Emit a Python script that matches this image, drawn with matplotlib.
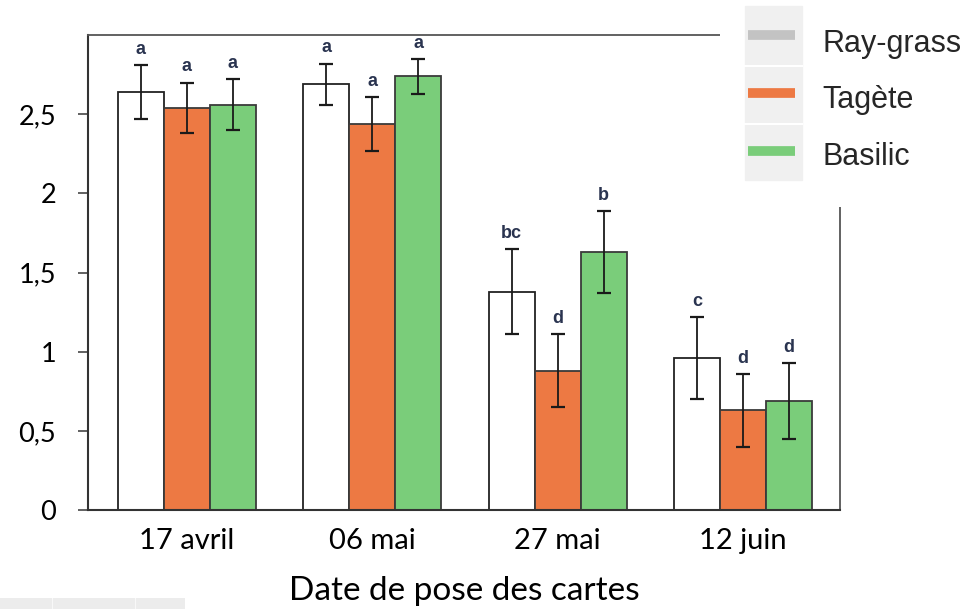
import numpy as np
import matplotlib.pyplot as plt
from matplotlib.lines import Line2D
from matplotlib.patches import Rectangle

# Dates de pose et moyennes par culture
dates = ['17 avril', '06 mai', '27 mai', '12 juin']
cultures = ['Ray-grass', 'Tagète', 'Basilic']

ray_grass = [2.64, 2.69, 1.38, 0.96]
tagete = [2.54, 2.44, 0.88, 0.63]
basilic = [2.56, 2.74, 1.63, 0.69]

ray_grass_err = [0.17, 0.13, 0.27, 0.26]
tagete_err = [0.16, 0.17, 0.23, 0.23]
basilic_err = [0.16, 0.11, 0.26, 0.24]

# Groupes statistiques
ray_grass_lettres = ['a', 'a', 'bc', 'c']
tagete_lettres = ['a', 'a', 'd', 'd']
basilic_lettres = ['a', 'a', 'b', 'd']

yticks = [0, 0.5, 1, 1.5, 2, 2.5]
ytick_labels = ['0', '0,5', '1', '1,5', '2', '2,5']

W, H = 975, 609
fig = plt.figure(figsize=(W / 100, H / 100), dpi=100)
ax = fig.add_axes([88 / W, 1 - 510 / H, 752 / W, 475 / H])

x = np.arange(len(dates))
width = 0.248
series = [
    (ray_grass, ray_grass_err, ray_grass_lettres, 'white', '#222222'),
    (tagete, tagete_err, tagete_lettres, '#ed7943', '#3a3a3a'),
    (basilic, basilic_err, basilic_lettres, '#7acd7a', '#3a3a3a'),
]
for i, (vals, errs, lettres, fc, ec) in enumerate(series):
    pos = x + (i - 1) * width
    ax.bar(pos, vals, width, color=fc, edgecolor=ec, linewidth=1.3, zorder=2)
    ax.errorbar(pos, vals, yerr=errs, fmt='none', ecolor='#1a1a1a',
                elinewidth=1.3, capsize=5, capthick=1.6, zorder=3)
    for p, v, e, l in zip(pos, vals, errs, lettres):
        ax.text(p, v + e + 0.045, l, ha='center', va='bottom', fontsize=13,
                fontweight='bold', color='#2a3450', family='Liberation Sans')

ax.set_xlim(-0.534, 3.524)
ax.set_ylim(0, 3)
ax.set_yticks(yticks)
ax.set_yticklabels(ytick_labels, family='Lato', fontsize=19.5)
ax.set_xticks(x)
ax.set_xticklabels(dates, family='Lato', fontsize=21)
ax.tick_params(axis='y', length=7, width=1.3, color='#555555', pad=16)
ax.tick_params(axis='x', length=0, pad=13)
ax.set_xlabel('Date de pose des cartes', family='Lato', fontsize=24, labelpad=16)

for side in ['left', 'bottom']:
    ax.spines[side].set_color('#333333')
    ax.spines[side].set_linewidth(1.5)
for side in ['top', 'right']:
    ax.spines[side].set_color('#555555')
    ax.spines[side].set_linewidth(1.3)

# Légende dans un cadre blanc en haut à droite
leg = fig.add_axes([720 / W, 1 - 207 / H, 255 / W, 207 / H], zorder=5)
leg.set_xlim(720, 975)
leg.set_ylim(207, 0)
leg.axis('off')
leg.add_patch(Rectangle((720, 0), 255, 207, color='white', zorder=0))
leg.add_patch(Rectangle((745, 6), 57, 174, color='#f0f0f0', zorder=1))
for ys in [66, 124]:
    leg.plot([745, 802], [ys, ys], color='white', lw=1.5, zorder=2)
handle_colors = ['#c3c3c3', '#ed7943', '#7acd7a']
for c, name, yl, yt in zip(handle_colors, cultures, [35, 93, 151], [44, 100, 157]):
    leg.add_line(Line2D([748, 795], [yl, yl], color=c, lw=7, zorder=3,
                        solid_capstyle='butt'))
    leg.text(822, yt, name, va='center', ha='left', fontsize=22,
             family='Liberation Sans', color='#262626', zorder=3)

# bande grise en bas à gauche
strip = fig.add_axes([0, 0, 185 / W, 11 / H], zorder=4)
strip.axis('off')
strip.set_xlim(0, 185)
strip.set_ylim(0, 11)
for x0, x1 in [(0, 51), (53, 134), (136, 185)]:
    strip.add_patch(Rectangle((x0, 0), x1 - x0, 11, color='#ececec'))

fig.savefig('out.png', dpi=100)
